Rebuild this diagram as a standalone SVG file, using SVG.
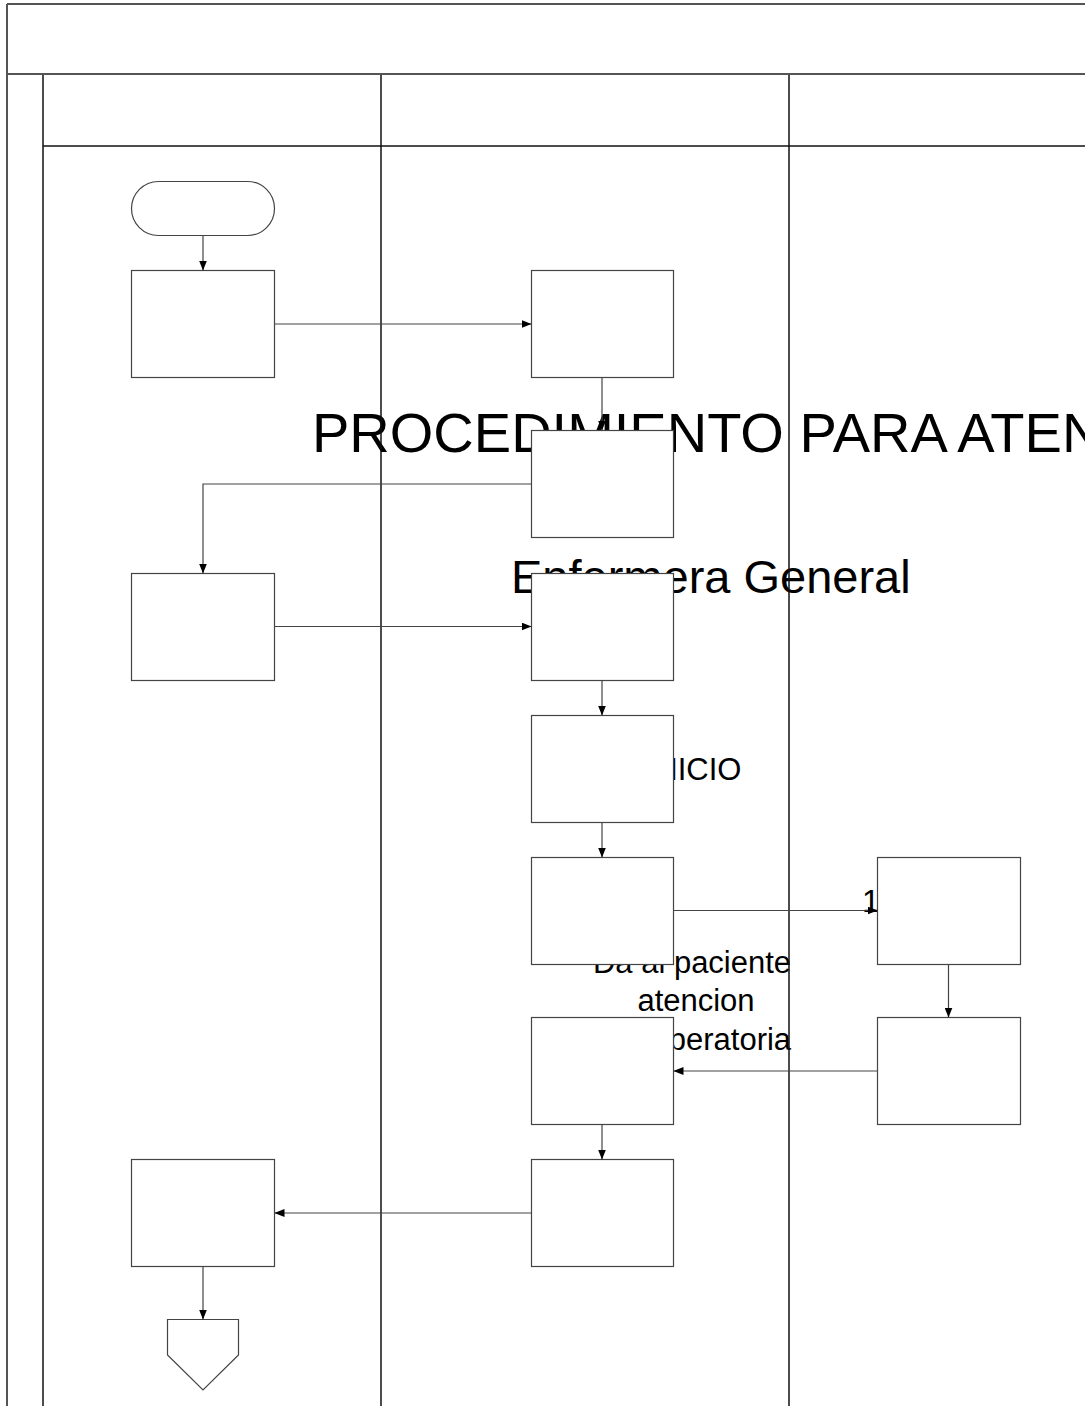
<svg xmlns="http://www.w3.org/2000/svg" width="1085" height="1406" viewBox="0 0 1085 1406">
<defs>
<marker id="ah" viewBox="0 0 10 8" refX="10" refY="4" markerWidth="10" markerHeight="8" markerUnits="userSpaceOnUse" orient="auto">
<path d="M0,0 L10,4 L0,8 z" fill="#000"/>
</marker>
<style>
.t{font-family:"Liberation Sans",Arial,sans-serif;fill:#000}
.lane{stroke:#111;stroke-width:1.5;fill:none}
.frame{stroke:#555;stroke-width:2;fill:none}
.box{fill:#fff;stroke:#444;stroke-width:1.2}
.c{fill:none;stroke:#444;stroke-width:1.2;marker-end:url(#ah)}
</style>
</defs>
<rect width="1085" height="1406" fill="#fff"/>
<g id="texts">
<text class="t" x="312" y="452" font-size="56">PROCEDIMIENTO PARA ATENCION</text>
<text class="t" x="511" y="593" font-size="47">Enfermera General</text>
<text class="t" x="694" y="780" font-size="31" text-anchor="middle">INICIO</text>
<text class="t" x="862" y="912" font-size="32">1</text>
<text class="t" font-size="31" text-anchor="middle"><tspan x="692" y="973">Da al paciente</tspan><tspan x="696" y="1011">atencion</tspan><tspan x="692" y="1050">postoperatoria</tspan></text>
</g>
<g id="frame">
<line class="frame" x1="7" y1="4" x2="1085" y2="4"/>
<line class="frame" x1="7" y1="4" x2="7" y2="1406"/>
<line class="frame" x1="7" y1="74" x2="1085" y2="74"/>
<line class="lane" x1="43" y1="75" x2="43" y2="1406"/>
<line class="lane" x1="381" y1="75" x2="381" y2="1406"/>
<line class="lane" x1="789" y1="75" x2="789" y2="1406"/>
<line class="lane" x1="43" y1="146" x2="1085" y2="146"/>
</g>
<g id="n-start"><rect class="box" x="131.5" y="181.5" width="143" height="54" rx="27"/></g>
<g id="n1"><rect class="box" x="131.5" y="270.5" width="143" height="107"/></g>
<g id="n2"><rect class="box" x="531.5" y="270.5" width="142" height="107"/></g>
<g id="n3"><rect class="box" x="531.5" y="430.5" width="142" height="107"/></g>
<g id="n4"><rect class="box" x="131.5" y="573.5" width="143" height="107"/></g>
<g id="n5"><rect class="box" x="531.5" y="573.5" width="142" height="107"/></g>
<g id="n6"><rect class="box" x="531.5" y="715.5" width="142" height="107"/></g>
<g id="n7"><rect class="box" x="531.5" y="857.5" width="142" height="107"/></g>
<g id="n8"><rect class="box" x="877.5" y="857.5" width="143" height="107"/></g>
<g id="n9"><rect class="box" x="531.5" y="1017.5" width="142" height="107"/></g>
<g id="n10"><rect class="box" x="877.5" y="1017.5" width="143" height="107"/></g>
<g id="n11"><rect class="box" x="131.5" y="1159.5" width="143" height="107"/></g>
<g id="n12"><rect class="box" x="531.5" y="1159.5" width="142" height="107"/></g>
<g id="n-end"><path class="box" d="M167.5,1319.5 L238.5,1319.5 L238.5,1355 L203,1390 L167.5,1355 Z"/></g>
<g id="connectors">
<path class="c" d="M203,235.5 L203,270.5"/>
<path class="c" d="M274.5,324 L531.5,324"/>
<path class="c" d="M602,377.5 L602,430.5"/>
<path class="c" d="M531.5,484 L203,484 L203,573.5"/>
<path class="c" d="M274.5,626.5 L531.5,626.5"/>
<path class="c" d="M602,680.5 L602,715.5"/>
<path class="c" d="M602,822.5 L602,857.5"/>
<path class="c" d="M673.5,910.5 L877.5,910.5"/>
<path class="c" d="M948.5,964.5 L948.5,1017.5"/>
<path class="c" d="M877.5,1071 L673.5,1071"/>
<path class="c" d="M602,1124.5 L602,1159.5"/>
<path class="c" d="M531.5,1213 L274.5,1213"/>
<path class="c" d="M203,1266.5 L203,1319.5"/>
</g>
</svg>
